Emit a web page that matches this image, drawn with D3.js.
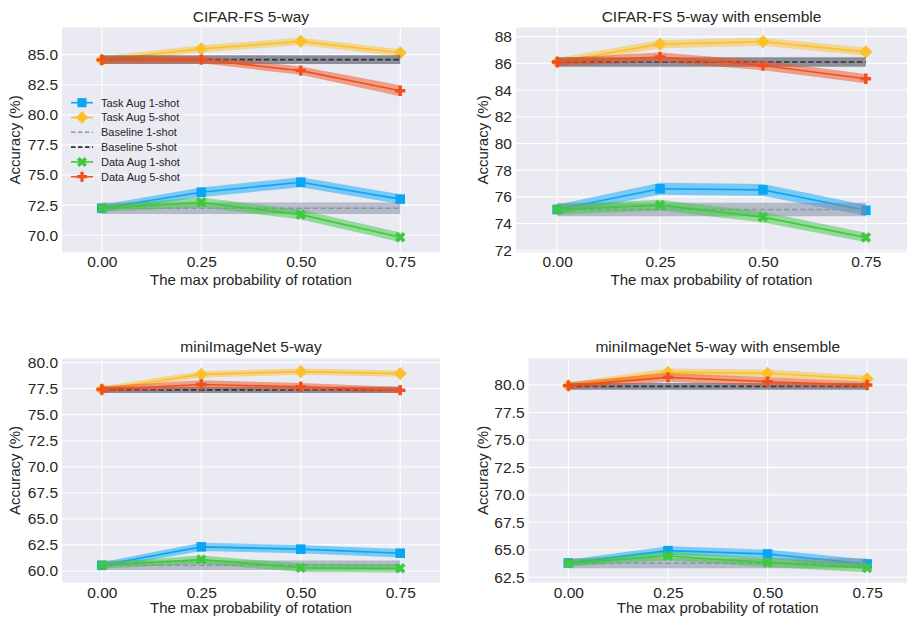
<!DOCTYPE html>
<html>
<head>
<meta charset="utf-8">
<script src="https://cdn.jsdelivr.net/npm/d3@7"></script>
<style>
  body { margin: 0; background: #fff; }
  svg text { font-family: "Liberation Sans", Arial, sans-serif; fill: #262626; }
</style>
</head>
<body>
<div id="chart"></div>
<script>
/* x values (max probability of rotation) */
const probs = [0, 0.25, 0.5, 0.75];
const seriesNames = ['Task Aug 1-shot', 'Task Aug 5-shot', 'Baseline 1-shot', 'Baseline 5-shot', 'Data Aug 1-shot', 'Data Aug 5-shot'];

/* CIFAR-FS 5-way */
const cifarTask1 = [72.24, 73.57, 74.40, 73.00];
const cifarTask5 = [84.56, 85.47, 86.10, 85.15];
const cifarBase1 = [72.24, 72.24, 72.24, 72.24];
const cifarBase5 = [84.58, 84.58, 84.58, 84.58];
const cifarData1 = [72.24, 72.73, 71.71, 69.83];
const cifarData5 = [84.56, 84.58, 83.67, 82.00];
const cifarSpread = [[0.3, 0.4, 0.42, 0.4], [0.3, 0.3, 0.3, 0.3], [0.48, 0.48, 0.48, 0.48], [0.37, 0.37, 0.37, 0.37], [0.3, 0.4, 0.4, 0.4], [0.3, 0.3, 0.35, 0.45]];
const cifarTicks = [70, 72.5, 75, 77.5, 80, 82.5, 85];

/* CIFAR-FS 5-way with ensemble */
const cifarEnsTask1 = [75.05, 76.60, 76.52, 74.99];
const cifarEnsTask5 = [86.10, 87.44, 87.62, 86.86];
const cifarEnsBase1 = [75.05, 75.05, 75.05, 75.05];
const cifarEnsBase5 = [86.10, 86.10, 86.10, 86.10];
const cifarEnsData1 = [75.05, 75.38, 74.48, 72.96];
const cifarEnsData5 = [86.10, 86.47, 85.84, 84.85];
const cifarEnsSpread = [[0.35, 0.45, 0.45, 0.4], [0.3, 0.3, 0.3, 0.3], [0.5, 0.5, 0.5, 0.5], [0.35, 0.35, 0.35, 0.35], [0.4, 0.4, 0.4, 0.35], [0.3, 0.35, 0.35, 0.35]];
const cifarEnsTicks = [72, 74, 76, 78, 80, 82, 84, 86, 88];

/* miniImageNet 5-way */
const miniTask1 = [60.54, 62.31, 62.09, 61.70];
const miniTask5 = [77.42, 78.87, 79.13, 78.94];
const miniBase1 = [60.54, 60.54, 60.54, 60.54];
const miniBase5 = [77.38, 77.38, 77.38, 77.38];
const miniData1 = [60.54, 61.09, 60.31, 60.25];
const miniData5 = [77.42, 77.90, 77.68, 77.35];
const miniSpread = [[0.3, 0.4, 0.4, 0.4], [0.3, 0.3, 0.3, 0.3], [0.45, 0.45, 0.45, 0.45], [0.3, 0.3, 0.3, 0.3], [0.3, 0.4, 0.4, 0.4], [0.3, 0.4, 0.35, 0.3]];
const miniTicks = [60, 62.5, 65, 67.5, 70, 72.5, 75, 77.5, 80];

/* miniImageNet 5-way with ensemble */
const miniEnsTask1 = [63.80, 64.92, 64.62, 63.71];
const miniEnsTask5 = [79.94, 81.15, 81.06, 80.55];
const miniEnsBase1 = [63.77, 63.77, 63.77, 63.77];
const miniEnsBase5 = [79.87, 79.87, 79.87, 79.87];
const miniEnsData1 = [63.77, 64.44, 63.83, 63.35];
const miniEnsData5 = [79.94, 80.69, 80.30, 80.00];
const miniEnsSpread = [[0.3, 0.4, 0.4, 0.4], [0.3, 0.35, 0.35, 0.3], [0.45, 0.45, 0.45, 0.45], [0.3, 0.3, 0.3, 0.3], [0.3, 0.4, 0.4, 0.4], [0.3, 0.4, 0.4, 0.3]];
const miniEnsTicks = [62.5, 65, 67.5, 70, 72.5, 75, 77.5, 80];

/* Estilos de cada serie */
const styles = [
  { color: '#0aa6f5', fill: '#0aa6f5', op: 0.5, marker: 'square' },
  { color: '#fbc02d', fill: '#fbc02d', op: 0.5, marker: 'diamond' },
  { color: '#8c96ab', fill: '#7f8aa0', op: 0.5, dash: '5.5,2.6' },
  { color: '#2e3138', fill: '#3c4250', op: 0.55, dash: '5.5,2.6' },
  { color: '#40c840', fill: '#40c840', op: 0.5, marker: 'x' },
  { color: '#f0501e', fill: '#f0501e', op: 0.5, marker: 'plus' }
];

const panels = [
  { title: 'CIFAR-FS 5-way', left: 62, right: 440, top: 27.5, bottom: 252.3, ylab: 15, xlab: 33, fmt: '.1f', ticks: cifarTicks,
    values: [cifarTask1, cifarTask5, cifarBase1, cifarBase5, cifarData1, cifarData5], spread: cifarSpread, legend: true },
  { title: 'CIFAR-FS 5-way with ensemble', left: 516, right: 907, top: 27.5, bottom: 252.3, ylab: 482.7, xlab: 33, fmt: 'd', ticks: cifarEnsTicks,
    values: [cifarEnsTask1, cifarEnsTask5, cifarEnsBase1, cifarEnsBase5, cifarEnsData1, cifarEnsData5], spread: cifarEnsSpread },
  { title: 'miniImageNet 5-way', left: 62, right: 440, top: 358.3, bottom: 582.7, ylab: 15, xlab: 30.5, fmt: '.1f', ticks: miniTicks,
    values: [miniTask1, miniTask5, miniBase1, miniBase5, miniData1, miniData5], spread: miniSpread },
  { title: 'miniImageNet 5-way with ensemble', left: 528.5, right: 907, top: 358.3, bottom: 582.5, ylab: 482.7, xlab: 30.5, fmt: '.1f', ticks: miniEnsTicks,
    values: [miniEnsTask1, miniEnsTask5, miniEnsBase1, miniEnsBase5, miniEnsData1, miniEnsData5], spread: miniEnsSpread }
];

/* Marcadores */
const markerPath = (type) => {
  if (type === 'square') { const s = 4.8; return `M${-s},${-s}H${s}V${s}H${-s}Z`; }
  if (type === 'diamond') { const r = 6.6; return `M0,${-r}L${r},0L0,${r}L${-r},0Z`; }
  const L = type === 'x' ? 5.6 : 5.2, w = L / 3;
  const pts = [[-w,-L],[w,-L],[w,-w],[L,-w],[L,w],[w,w],[w,L],[-w,L],[-w,w],[-L,w],[-L,-w],[-w,-w]];
  const a = type === 'x' ? Math.PI / 4 : 0;
  return 'M' + pts.map(([x, y]) => [x * Math.cos(a) - y * Math.sin(a), x * Math.sin(a) + y * Math.cos(a)].map(v => v.toFixed(2)).join(',')).join('L') + 'Z';
};

const svg = d3.select('#chart').append('svg').attr('width', 907).attr('height', 617);

panels.forEach(p => {
  const lo = d3.min(p.values, (s, i) => d3.min(s, (v, j) => v - p.spread[i][j]));
  const hi = d3.max(p.values, (s, i) => d3.max(s, (v, j) => v + p.spread[i][j]));
  const m = (hi - lo) * 0.05;

  const x = d3.scaleLinear().domain([-0.1, 0.85]).range([p.left, p.right]);
  const y = d3.scaleLinear().domain([lo - m, hi + m]).range([p.bottom, p.top]);

  const g = svg.append('g');

  g.append('rect').attr('x', p.left).attr('y', p.top)
    .attr('width', p.right - p.left).attr('height', p.bottom - p.top).attr('fill', '#eaeaf2');

  /* Grid */
  g.selectAll('.gy').data(p.ticks).join('line')
    .attr('x1', p.left).attr('x2', p.right).attr('y1', d => y(d)).attr('y2', d => y(d))
    .attr('stroke', '#fff').attr('stroke-width', 1.1);
  g.selectAll('.gx').data(probs).join('line')
    .attr('x1', d => x(d)).attr('x2', d => x(d)).attr('y1', p.top).attr('y2', p.bottom)
    .attr('stroke', '#fff').attr('stroke-width', 1.1);

  /* Ejes */
  const yAxis = d3.axisLeft(y).tickValues(p.ticks).tickFormat(d3.format(p.fmt)).tickSize(0).tickPadding(4);
  const xAxis = d3.axisBottom(x).tickValues(probs).tickFormat(d3.format('.2f')).tickSize(0).tickPadding(4);
  g.append('g').attr('transform', `translate(${p.left},0)`).call(yAxis)
    .call(a => a.select('.domain').remove())
    .selectAll('text').style('font-size', '15.5px').attr('fill', '#262626');
  g.append('g').attr('transform', `translate(0,${p.bottom})`).call(xAxis)
    .call(a => a.select('.domain').remove())
    .selectAll('text').style('font-size', '15.5px').attr('fill', '#262626');

  /* Series */
  const area = d3.area().x((d, i) => x(probs[i])).y0(d => y(d[0])).y1(d => y(d[1]));
  const line = d3.line().x((d, i) => x(probs[i])).y(d => y(d));

  p.values.forEach((vals, i) => {
    const st = styles[i];
    const band = vals.map((v, j) => [v - p.spread[i][j], v + p.spread[i][j]]);
    g.append('path').attr('d', area(band)).attr('fill', st.fill).attr('fill-opacity', st.op);
    g.append('path').attr('d', line(vals)).attr('fill', 'none').attr('stroke', st.color)
      .attr('stroke-width', 1.6).attr('stroke-dasharray', st.dash || null);
    if (st.marker) {
      g.selectAll(null).data(vals).join('path')
        .attr('transform', (d, j) => `translate(${x(probs[j])},${y(d)})`)
        .attr('d', markerPath(st.marker)).attr('fill', st.color);
    }
  });

  /* Textos */
  g.append('text').attr('x', (p.left + p.right) / 2).attr('y', p.top - 6)
    .attr('text-anchor', 'middle').style('font-size', '15.5px').text(p.title);
  g.append('text').attr('x', (p.left + p.right) / 2).attr('y', p.bottom + p.xlab)
    .attr('text-anchor', 'middle').style('font-size', '15px').text('The max probability of rotation');
  g.append('text').attr('transform', `translate(${p.ylab},${(p.top + p.bottom) / 2}) rotate(-90)`)
    .attr('dy', '0.35em').attr('text-anchor', 'middle').style('font-size', '15px').text('Accuracy (%)');

  /* Leyenda */
  if (p.legend) {
    const lg = g.append('g').attr('transform', 'translate(71,102.7)');
    seriesNames.forEach((name, i) => {
      const st = styles[i];
      const row = lg.append('g').attr('transform', `translate(0,${i * 14.8})`);
      row.append('line').attr('x1', 0).attr('x2', 22).attr('stroke', st.color)
        .attr('stroke-width', 1.6).attr('stroke-dasharray', st.dash ? '4.5,2.5' : null);
      if (st.marker) {
        row.append('path').attr('transform', 'translate(11,0) scale(0.95)')
          .attr('d', markerPath(st.marker)).attr('fill', st.color);
      }
      row.append('text').attr('x', 30).attr('dy', '0.35em').style('font-size', '11px').text(name);
    });
  }
});
</script>
</body>
</html>
